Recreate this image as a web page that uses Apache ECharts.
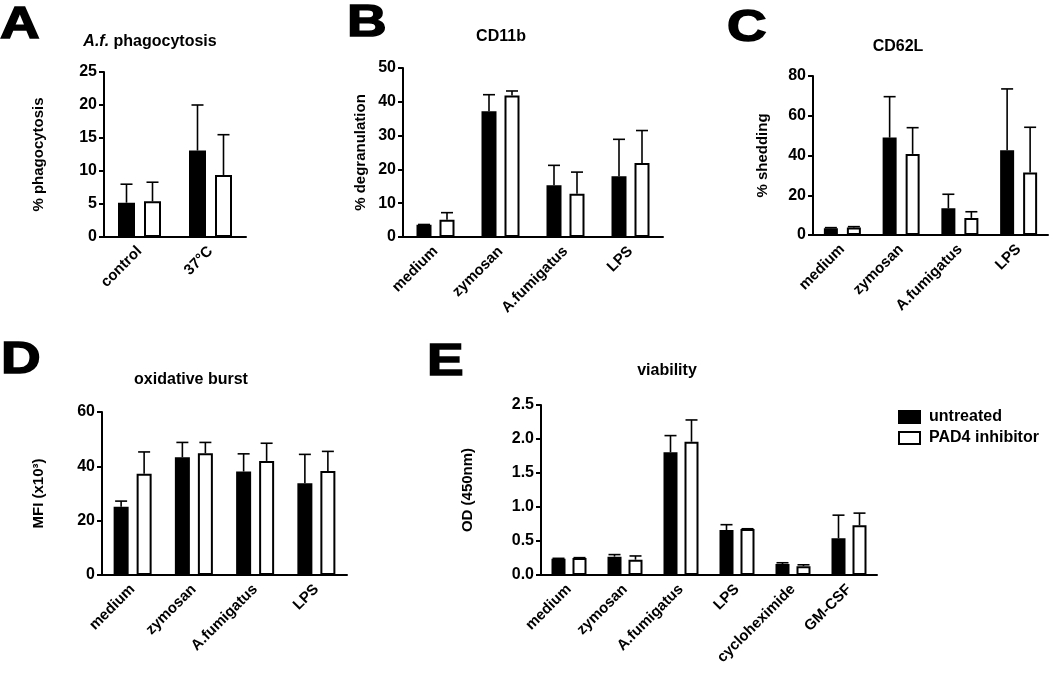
<!DOCTYPE html>
<html><head><meta charset="utf-8">
<script src="https://cdn.jsdelivr.net/npm/echarts@6/dist/echarts.min.js"></script>
<style>html,body{margin:0;padding:0;background:#fff}#c{width:1050px;height:674px}</style>
</head><body><div id="c"></div>
<script>
// ---- data ----
const catsA = ['control', '37°C'];
const catsBCD = ['medium', 'zymosan', 'A.fumigatus', 'LPS'];
const catsE = ['medium', 'zymosan', 'A.fumigatus', 'LPS', 'cycloheximide', 'GM-CSF'];

const aUntreated = [5.2, 13.1];
const aUntreatedErr = [2.8, 6.9];
const aPad4 = [5.4, 9.4];
const aPad4Err = [2.9, 6.1];

const bUntreated = [3.6, 37.2, 15.3, 18.0];
const bUntreatedErr = [0.1, 4.9, 5.9, 10.9];
const bPad4 = [5.1, 41.9, 12.8, 21.9];
const bPad4Err = [2.1, 1.3, 6.4, 9.6];

const cUntreated = [3.4, 49.0, 13.4, 42.6];
const cUntreatedErr = [0.3, 20.6, 7.1, 30.9];
const cPad4 = [3.8, 40.8, 8.6, 31.5];
const cPad4Err = [0.4, 13.2, 3.1, 22.7];

const dUntreated = [25.1, 43.3, 38.1, 33.8];
const dUntreatedErr = [2.1, 5.5, 6.5, 10.6];
const dPad4 = [37.3, 44.8, 42.0, 38.3];
const dPad4Err = [8.0, 4.0, 6.5, 7.2];

const eUntreated = [0.24, 0.27, 1.805, 0.66, 0.16, 0.54];
const eUntreatedErr = [0.005, 0.03, 0.245, 0.08, 0.02, 0.34];
const ePad4 = [0.25, 0.225, 1.96, 0.675, 0.13, 0.73];
const ePad4Err = [0.005, 0.055, 0.32, 0.005, 0.02, 0.18];

const yTicksA = {min: 0, max: 25, interval: 5};
const yTicksB = {min: 0, max: 50, interval: 10};
const yTicksC = {min: 0, max: 80, interval: 20};
const yTicksD = {min: 0, max: 60, interval: 20};
const yTicksE = {min: 0, max: 2.5, interval: 0.5};

// ---- layout ----
const FONT = '"Liberation Sans", Arial, Helvetica, sans-serif';
const panels = [
  {cats: catsA, u: aUntreated, ue: aUntreatedErr, p: aPad4, pe: aPad4Err, y: yTicksA, name: '% phagocytosis', nameGap: 58,
   grid: {left: 104, top: 72, width: 142, height: 165}, bw: 17, gap: 9, dec: 0},
  {cats: catsBCD, u: bUntreated, ue: bUntreatedErr, p: bPad4, pe: bPad4Err, y: yTicksB, name: '% degranulation', nameGap: 35,
   grid: {left: 403, top: 68, width: 260, height: 169}, bw: 15, gap: 8, dec: 0},
  {cats: catsBCD, u: cUntreated, ue: cUntreatedErr, p: cPad4, pe: cPad4Err, y: yTicksC, name: '% shedding', nameGap: 43,
   grid: {left: 813, top: 76, width: 235, height: 159}, bw: 14, gap: 9, dec: 0},
  {cats: catsBCD, u: dUntreated, ue: dUntreatedErr, p: dPad4, pe: dPad4Err, y: yTicksD, name: 'MFI (x10³)', nameGap: 56,
   grid: {left: 102, top: 412, width: 245, height: 163}, bw: 15, gap: 8, dec: 0},
  {cats: catsE, u: eUntreated, ue: eUntreatedErr, p: ePad4, pe: ePad4Err, y: yTicksE, name: 'OD (450nm)', nameGap: 66,
   grid: {left: 541, top: 405, width: 336, height: 170}, bw: 14, gap: 7, dec: 1}
];

const grids = [], xAxes = [], yAxes = [], series = [];
function errRender(offset) {
  return function (params, api) {
    const i = api.value(0), v = api.value(1), e = api.value(2);
    const p0 = api.coord([i, v]);
    const p1 = api.coord([i, v + e]);
    const x = p0[0] + offset;
    const st = {stroke: '#000', lineWidth: 1.6};
    return {type: 'group', children: [
      {type: 'line', shape: {x1: x, y1: p0[1], x2: x, y2: p1[1]}, style: st},
      {type: 'line', shape: {x1: x - 6, y1: p1[1], x2: x + 6, y2: p1[1]}, style: st}
    ]};
  };
}
panels.forEach((pn, k) => {
  grids.push(Object.assign({containLabel: false}, pn.grid));
  xAxes.push({
    type: 'category', gridIndex: k, data: pn.cats,
    axisLine: {lineStyle: {color: '#000', width: 2}},
    axisTick: {alignWithLabel: true, length: 5, lineStyle: {color: '#000', width: 2}},
    axisLabel: {rotate: 45, color: '#000', fontFamily: FONT, fontWeight: 'bold', fontSize: 15, margin: 12, interval: 0}
  });
  yAxes.push({
    type: 'value', gridIndex: k, min: pn.y.min, max: pn.y.max, interval: pn.y.interval,
    name: pn.name, nameLocation: 'middle', nameGap: pn.nameGap, nameRotate: 90,
    nameTextStyle: {color: '#000', fontFamily: FONT, fontWeight: 'bold', fontSize: 15},
    axisLine: {show: true, lineStyle: {color: '#000', width: 2}},
    axisTick: {show: true, length: 5, lineStyle: {color: '#000', width: 2}},
    splitLine: {show: false},
    axisLabel: {color: '#000', fontFamily: FONT, fontWeight: 'bold', fontSize: 16, margin: 7,
      formatter: v => v.toFixed(pn.dec)}
  });
  const off = (pn.bw + pn.gap) / 2;
  series.push({
    type: 'bar', name: 'untreated', xAxisIndex: k, yAxisIndex: k, data: pn.u,
    barWidth: pn.bw, barGap: (pn.gap / pn.bw * 100) + '%',
    itemStyle: {color: '#000', borderColor: '#000', borderWidth: 2}, silent: true
  });
  series.push({
    type: 'bar', name: 'PAD4 inhibitor', xAxisIndex: k, yAxisIndex: k, data: pn.p,
    barWidth: pn.bw, barGap: (pn.gap / pn.bw * 100) + '%',
    itemStyle: {color: '#fff', borderColor: '#000', borderWidth: 2}, silent: true
  });
  series.push({
    type: 'custom', xAxisIndex: k, yAxisIndex: k, renderItem: errRender(-off), z: 5,
    encode: {x: 0, y: 1}, data: pn.u.map((v, i) => [i, v, pn.ue[i]]), silent: true
  });
  series.push({
    type: 'custom', xAxisIndex: k, yAxisIndex: k, renderItem: errRender(off), z: 5,
    encode: {x: 0, y: 1}, data: pn.p.map((v, i) => [i, v, pn.pe[i]]), silent: true
  });
});

const letterStyle = {fontFamily: FONT, fontWeight: 'bold', fontSize: 45, fill: '#000', stroke: '#000', lineWidth: 1.5};
const titleStyle = {fontFamily: FONT, fontWeight: 'bold', fontSize: 16, fill: '#000', align: 'center', verticalAlign: 'middle'};
function letter(t, x, y) {
  return {type: 'text', x: x, y: y, scaleX: 1.22, style: Object.assign({text: t}, letterStyle)};
}
const graphics = [
  letter('A', 0, 3),
  letter('B', 347, 1),
  letter('C', 727, 6),
  letter('D', 1, 338),
  letter('E', 427, 340),
  {type: 'text', x: 150, y: 42, style: Object.assign({}, titleStyle, {
    text: '{i|A.f.} phagocytosis',
    rich: {i: {fontStyle: 'italic', fontWeight: 'bold', fontFamily: FONT, fontSize: 16, fill: '#000'}}
  })},
  {type: 'text', x: 501, y: 37, style: Object.assign({text: 'CD11b'}, titleStyle)},
  {type: 'text', x: 898, y: 47, style: Object.assign({text: 'CD62L'}, titleStyle)},
  {type: 'text', x: 191, y: 380, style: Object.assign({text: 'oxidative burst'}, titleStyle)},
  {type: 'text', x: 667, y: 371, style: Object.assign({text: 'viability'}, titleStyle)}
];

const chart = echarts.init(document.getElementById('c'), null, {renderer: 'canvas'});
chart.setOption({
  animation: false,
  backgroundColor: '#fff',
  grid: grids, xAxis: xAxes, yAxis: yAxes, series: series,
  legend: {
    data: [{name: 'untreated', icon: 'rect'}, {name: 'PAD4 inhibitor', icon: 'rect'}],
    orient: 'vertical', left: 893, top: 404, padding: 5,
    itemWidth: 21, itemHeight: 12, itemGap: 5, selectedMode: false,
    textStyle: {color: '#000', fontFamily: FONT, fontWeight: 'bold', fontSize: 16, padding: [0, 0, 0, 4]}
  },
  graphic: graphics
});
</script></body></html>
